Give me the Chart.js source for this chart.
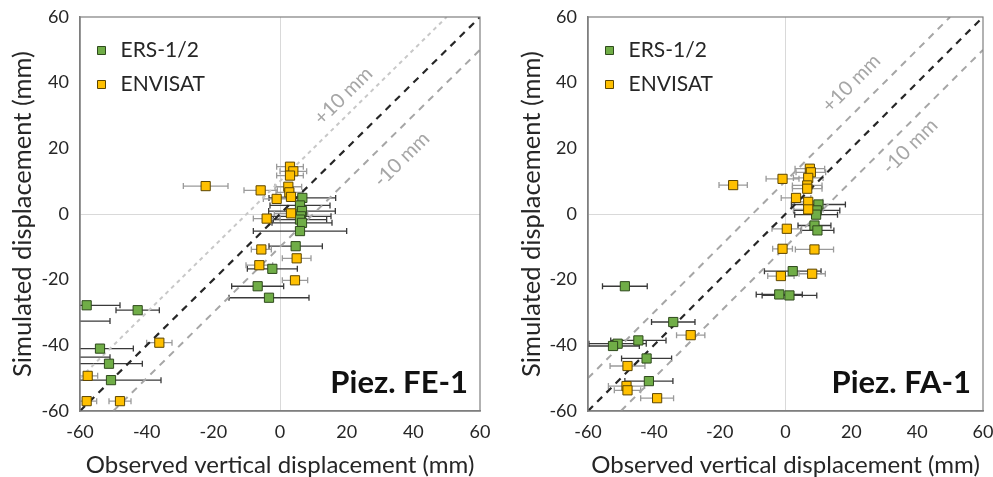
<!DOCTYPE html>
<html>
<head>
<meta charset="utf-8">
<script src="https://cdn.jsdelivr.net/npm/chart.js@4.4.1/dist/chart.umd.min.js"></script>
<style>
    body { margin: 0; background: #ffffff; }
    #graficaFE { position: absolute; left: 0px; top: 0px; }
    #graficaFA { position: absolute; left: 510px; top: 0px; }
</style>
</head>
<body>
<canvas id="graficaFE" width="496" height="477"></canvas>
<canvas id="graficaFA" width="483" height="477"></canvas>
<script>

// ================= DATOS =================

const series = ["ERS-1/2", "ENVISAT"];
const ticksEje = [-60, -40, -20, 0, 20, 40, 60];

// rectas de referencia (1:1, +10 mm, -10 mm)
const rectaX = [-60, 60];
const rectaY = [-60, 60];
const mas10X = [-60, 50];
const mas10Y = [-50, 60];
const menos10X = [-50, 60];
const menos10Y = [-60, 50];

// Piez. FE-1
const feErsX   = [6.7, 6.0, 6.6, 6.3, 6.0, 6.6, 6.0, 4.7, -2.3, -6.7, -3.3, -58.0, -42.7, -68.0, -54.0, -66.0, -51.3, -50.7];
const feErsY   = [4.9, 2.6, 0.9, -0.7, -1.7, -2.7, -5.2, -9.8, -16.7, -22.0, -25.5, -27.8, -29.3, -32.6, -41.0, -43.6, -45.6, -50.6];
const feErsErr = [10, 9, 10, 9, 8, 9, 14, 8, 7.5, 7.8, 12, 10, 6.5, 17, 10, 15, 10, 15];

const feEnvX   = [-22.3, -5.8, -1.0, 3.0, 4.0, 3.0, 2.5, 2.8, 3.3, 3.3, -4.0, -5.6, 5.0, -6.2, 4.5, -36.2, -57.7, -58.0, -48.0];
const feEnvY   = [8.5, 7.2, 4.6, 14.4, 13.0, 11.7, 8.3, 6.6, 5.2, 0.2, -1.4, -10.8, -13.5, -15.6, -20.2, -39.2, -49.3, -57.0, -57.0];
const feEnvErr = [6.7, 5, 4, 4, 4, 4, 4, 4, 4, 5, 4, 3, 4.3, 4, 3.8, 3.8, 3, 3, 3.3];

// Piez. FA-1
const faErsX   = [10.0, 9.5, 9.3, 8.8, 9.7, 2.2, -1.9, 1.2, -48.8, -34.1, -44.7, -51.0, -52.4, -42.2, -41.5];
const faErsY   = [2.9, 1.1, -0.2, -3.5, -5.0, -17.4, -24.5, -24.8, -22.0, -32.9, -38.5, -39.5, -40.2, -44.0, -50.9];
const faErsErr = [8.2, 7, 6.5, 5, 5, 8.6, 7, 8.3, 6.8, 6.6, 8.4, 8.7, 8, 7.6, 7.3];

const faEnvX   = [-15.9, -0.9, 7.4, 7.7, 6.9, 6.6, 6.6, 3.2, 6.9, 6.9, 0.4, -0.9, 8.8, -1.4, 8.1, -28.8, -48.0, -48.3, -48.0, -39.0];
const faEnvY   = [8.8, 10.7, 13.8, 12.7, 11.0, 8.7, 7.7, 4.9, 3.7, 1.4, -4.5, -10.6, -10.8, -18.9, -18.2, -36.9, -46.3, -52.4, -53.7, -56.1];
const faEnvErr = [4.3, 5, 4.5, 4.5, 4.5, 4.5, 4.5, 4.5, 4.5, 4.5, 4.5, 3, 5.8, 4, 4, 4.3, 5.3, 5.5, 4, 5];

// ================= ESTILO GENERAL =================

Chart.defaults.font.family = "Lato";
Chart.defaults.color = "#262626";

const verde = "#70ad47";
const verdeBorde = "#2f4a1d";
const amarillo = "#ffc000";
const amarilloBorde = "#5c4500";

function puntos(xs, ys)
{
    return xs.map((x, i) => ({ x: x, y: ys[i] }));
}

// ================= PLUGIN BARRAS DE ERROR =================

const barrasError =
{
    id: "barrasError",
    beforeDatasetsDraw(chart)
    {
        const ctx = chart.ctx;
        const area = chart.chartArea;
        const ex = chart.scales.x;
        const ey = chart.scales.y;

        ctx.save();
        ctx.beginPath();
        ctx.rect(area.left, area.top, area.right - area.left, area.bottom - area.top);
        ctx.clip();

        chart.data.datasets.forEach(ds => {

            if(!ds.errX)
                return;

            ctx.strokeStyle = ds.colorError;
            ctx.lineWidth = 1.3;

            ds.data.forEach((p, i) => {

                const x1 = ex.getPixelForValue(p.x - ds.errX[i]);
                const x2 = ex.getPixelForValue(p.x + ds.errX[i]);
                const py = ey.getPixelForValue(p.y);

                ctx.beginPath();
                ctx.moveTo(x1, py);
                ctx.lineTo(x2, py);
                ctx.moveTo(x1, py - 3);
                ctx.lineTo(x1, py + 3);
                ctx.moveTo(x2, py - 3);
                ctx.lineTo(x2, py + 3);
                ctx.stroke();
            });
        });

        ctx.restore();
    }
};

// ================= PLUGIN MARCO Y TEXTOS =================

const marcoTextos =
{
    id: "marcoTextos",
    afterDraw(chart, args, opts)
    {
        const ctx = chart.ctx;
        const area = chart.chartArea;
        const ex = chart.scales.x;
        const ey = chart.scales.y;

        ctx.save();

        // marco del area de la grafica
        ctx.strokeStyle = "#7f7f7f";
        ctx.lineWidth = 1.2;
        ctx.strokeRect(area.left, area.top, area.right - area.left, area.bottom - area.top);

        // etiquetas +10 / -10 mm, giradas con la pendiente de la recta
        const ang = Math.atan2(
            ey.getPixelForValue(60) - ey.getPixelForValue(-60),
            ex.getPixelForValue(60) - ex.getPixelForValue(-60));

        ctx.fillStyle = "#a6a6a6";
        ctx.font = "20px Lato";
        ctx.textAlign = "center";
        ctx.textBaseline = "middle";

        opts.etiquetas.forEach(e => {
            ctx.save();
            ctx.translate(ex.getPixelForValue(e.x), ey.getPixelForValue(e.y));
            ctx.rotate(ang);
            ctx.fillText(e.texto, 0, 0);
            ctx.restore();
        });

        // nombre del piezometro
        ctx.fillStyle = "#111111";
        ctx.font = "bold 31px Lato";
        ctx.textAlign = "right";
        ctx.textBaseline = "alphabetic";
        ctx.fillText(opts.piez, area.right - 12, area.bottom - 18);

        ctx.restore();
    }
};

// ================= GRAFICAS =================

function crearGrafica(id, ersX, ersY, ersErr, envX, envY, envErr, nota, anchoEjeY, margenDer, margenTitulo, colorMas10, dashMas10, etiquetas)
{
    return new Chart(
        document.getElementById(id),
        {
            type: "scatter",
            data:
            {
                datasets:
                [
                    {
                        label: series[0],
                        data: puntos(ersX, ersY),
                        errX: ersErr,
                        colorError: "#3a3a3a",
                        backgroundColor: verde,
                        borderColor: verdeBorde,
                        borderWidth: 1,
                        pointStyle: "rect",
                        pointRadius: 6.5,
                        order: 2
                    },

                    {
                        label: series[1],
                        data: puntos(envX, envY),
                        errX: envErr,
                        colorError: "#9a9a9a",
                        backgroundColor: amarillo,
                        borderColor: amarilloBorde,
                        borderWidth: 1,
                        pointStyle: "rect",
                        pointRadius: 6.5,
                        order: 1
                    },

                    {
                        label: "1:1",
                        data: puntos(rectaX, rectaY),
                        showLine: true,
                        borderColor: "#262626",
                        borderWidth: 2.2,
                        borderDash: [7, 6],
                        pointRadius: 0,
                        order: 3
                    },

                    {
                        label: "+10 mm",
                        data: puntos(mas10X, mas10Y),
                        showLine: true,
                        borderColor: colorMas10,
                        borderWidth: 2,
                        borderDash: dashMas10,
                        pointRadius: 0,
                        order: 3
                    },

                    {
                        label: "-10 mm",
                        data: puntos(menos10X, menos10Y),
                        showLine: true,
                        borderColor: "#a6a6a6",
                        borderWidth: 2,
                        borderDash: [7, 6],
                        pointRadius: 0,
                        order: 3
                    }
                ]
            },
            options:
            {
                responsive: false,
                animation: false,
                layout:
                {
                    padding: { top: 17, right: margenDer, left: 0, bottom: 0 }
                },
                plugins:
                {
                    tooltip: { enabled: false },
                    legend:
                    {
                        position: "chartArea",
                        align: "start",
                        title:
                        {
                            display: true,
                            text: " ",
                            font: { size: 10, lineHeight: 1.2 },
                            padding: { top: 7.5, bottom: 7.5 }
                        },
                        labels:
                        {
                            filter: (item) => series.includes(item.text),
                            sort: (a, b) => a.datasetIndex - b.datasetIndex,
                            usePointStyle: true,
                            pointStyle: "rect",
                            boxWidth: 17,
                            boxHeight: 8,
                            padding: 13,
                            color: "#262626",
                            font: { size: 21 }
                        }
                    },
                    marcoTextos:
                    {
                        piez: nota,
                        etiquetas: etiquetas
                    }
                },
                scales:
                {
                    x:
                    {
                        min: ticksEje[0],
                        max: ticksEje[ticksEje.length - 1],
                        afterBuildTicks: (escala) => { escala.ticks = ticksEje.map(v => ({ value: v })); },
                        afterFit: (escala) =>
                        {
                            escala.height = 66;
                            escala.paddingLeft = 0;
                            escala.paddingRight = 0;
                        },
                        ticks: { padding: 10, font: { size: 18 }, color: "#262626" },
                        grid:
                        {
                            drawTicks: false,
                            color: (c) => (c.tick && c.tick.value === 0 ? "#d9d9d9" : "rgba(0,0,0,0)")
                        },
                        border: { color: "#7f7f7f", width: 1.5 },
                        title:
                        {
                            display: true,
                            text: "Observed vertical displacement (mm)",
                            font: { size: 24, lineHeight: 1.0 },
                            color: "#262626",
                            padding: { top: 0, bottom: 0 }
                        }
                    },
                    y:
                    {
                        min: ticksEje[0],
                        max: ticksEje[ticksEje.length - 1],
                        afterBuildTicks: (escala) => { escala.ticks = ticksEje.map(v => ({ value: v })); },
                        afterFit: (escala) =>
                        {
                            escala.width = anchoEjeY;
                            escala.paddingTop = 0;
                            escala.paddingBottom = 0;
                        },
                        ticks: { padding: 11, font: { size: 18 }, color: "#262626" },
                        grid:
                        {
                            drawTicks: false,
                            color: (c) => (c.tick && c.tick.value === 0 ? "#d9d9d9" : "rgba(0,0,0,0)")
                        },
                        border: { color: "#7f7f7f", width: 1.5 },
                        title:
                        {
                            display: true,
                            text: "Simulated displacement (mm)",
                            font: { size: 25.5, lineHeight: 1.0 },
                            color: "#262626",
                            padding: { top: margenTitulo, bottom: 0 }
                        }
                    }
                }
            },
            plugins: [barrasError, marcoTextos]
        });
}

crearGrafica("graficaFE", feErsX, feErsY, feErsErr, feEnvX, feEnvY, feEnvErr,
    "Piez. FE-1", 80, 16, 10, "#c8c8c8", [4, 4],
    [
        { texto: "+10 mm", x: 19, y: 36 },
        { texto: "-10 mm", x: 36.5, y: 16.6 }
    ]);

crearGrafica("graficaFA", faErsX, faErsY, faErsErr, faEnvX, faEnvY, faEnvErr,
    "Piez. FA-1", 78, 10, 9, "#a6a6a6", [7, 6],
    [
        { texto: "+10 mm", x: 20, y: 39.8 },
        { texto: "-10 mm", x: 37.8, y: 20.6 }
    ]);

</script>
</body>
</html>
